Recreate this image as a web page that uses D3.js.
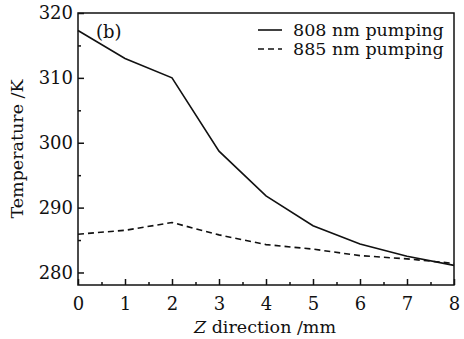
<!DOCTYPE html>
<html>
<head>
<meta charset="utf-8">
<style>
  html, body { margin: 0; padding: 0; background: #fff; }
  svg text { font-family: "DejaVu Serif", "Liberation Serif", serif; fill: #111; }
  .axis path, .axis line { stroke: #111; stroke-width: 1.5px; }
</style>
</head>
<body>
<svg width="464" height="339"></svg>
<script src="https://d3js.org/d3.v7.min.js"></script>
<script>
  var zValues = [0, 1, 2, 3, 4, 5, 6, 7, 8];
  var temp808 = [317.3, 313.0, 310.0, 298.7, 291.8, 287.2, 284.4, 282.5, 281.1];
  var temp885 = [285.9, 286.5, 287.7, 285.8, 284.3, 283.6, 282.6, 282.1, 281.4];
  var xTicks = [0, 1, 2, 3, 4, 5, 6, 7, 8];
  var yTicks = [280, 290, 300, 310, 320];
  var seriesNames = ["808 nm pumping", "885 nm pumping"];

  var svg = d3.select("svg");
  var margin = {left: 78, right: 10, top: 13, bottom: 54};
  var w = 464 - margin.left - margin.right,
      h = 339 - margin.top - margin.bottom;

  var x = d3.scaleLinear().domain([0, 8]).range([0, w]);
  var y = d3.scaleLinear().domain([278.07, 320]).range([h, 0]);

  var g = svg.append("g").attr("transform", "translate(" + margin.left + "," + margin.top + ")");

  // frame
  g.append("rect").attr("width", w).attr("height", h)
    .attr("fill", "none").attr("stroke", "#111").attr("stroke-width", 1.5);

  // minor ticks
  var xMinor = d3.range(0.5, 8, 1);
  var yMinor = [285, 295, 305, 315];

  var xAxis = g.append("g").attr("class", "axis").attr("transform", "translate(0," + h + ")")
    .call(d3.axisBottom(x).tickValues(xTicks).tickSize(-6).tickPadding(12).tickFormat(d3.format("d")));
  xAxis.select(".domain").remove();
  g.append("g").attr("class", "axis").attr("transform", "translate(0," + h + ")")
    .call(d3.axisBottom(x).tickValues(xMinor).tickSize(-3).tickFormat(""))
    .select(".domain").remove();

  var yAxis = g.append("g").attr("class", "axis")
    .call(d3.axisLeft(y).tickValues(yTicks).tickSize(-6).tickPadding(5));
  yAxis.select(".domain").remove();
  g.append("g").attr("class", "axis")
    .call(d3.axisLeft(y).tickValues(yMinor).tickSize(-3).tickFormat(""))
    .select(".domain").remove();

  g.selectAll(".axis text").style("font-size", "18px").style("font-family", "DejaVu Serif, serif").attr("fill", "#111");

  // axis titles
  var xt = svg.append("text").attr("x", margin.left + w / 2 - 1).attr("y", 333)
    .attr("text-anchor", "middle").style("font-size", "17.5px");
  xt.append("tspan").style("font-style", "italic").text("Z");
  xt.append("tspan").text(" direction /mm");

  svg.append("text").attr("transform", "translate(23," + (margin.top + h / 2) + ") rotate(-90)")
    .attr("text-anchor", "middle").style("font-size", "17.5px").text("Temperature /K");

  // lines
  var line = d3.line().x(function(d, i) { return x(zValues[i]); }).y(function(d) { return y(d); });
  g.append("path").datum(temp808).attr("d", line)
    .attr("fill", "none").attr("stroke", "#111").attr("stroke-width", 1.6);
  g.append("path").datum(temp885).attr("d", line)
    .attr("fill", "none").attr("stroke", "#111").attr("stroke-width", 1.6).attr("stroke-dasharray", "6,4");

  // panel label
  g.append("text").attr("x", 18).attr("y", 25).style("font-size", "18px").text("(b)");

  // legend
  var legend = g.selectAll(".leg").data(seriesNames).enter().append("g")
    .attr("transform", function(d, i) { return "translate(180," + (17 + i * 19) + ")"; });
  legend.append("line").attr("x1", 0).attr("x2", 24).attr("y1", 0).attr("y2", 0)
    .attr("stroke", "#111").attr("stroke-width", 1.6)
    .attr("stroke-dasharray", function(d, i) { return i ? "6,4" : null; });
  legend.append("text").attr("x", 35).attr("y", 6).style("font-size", "17.5px").text(function(d) { return d; });
</script>
</body>
</html>
